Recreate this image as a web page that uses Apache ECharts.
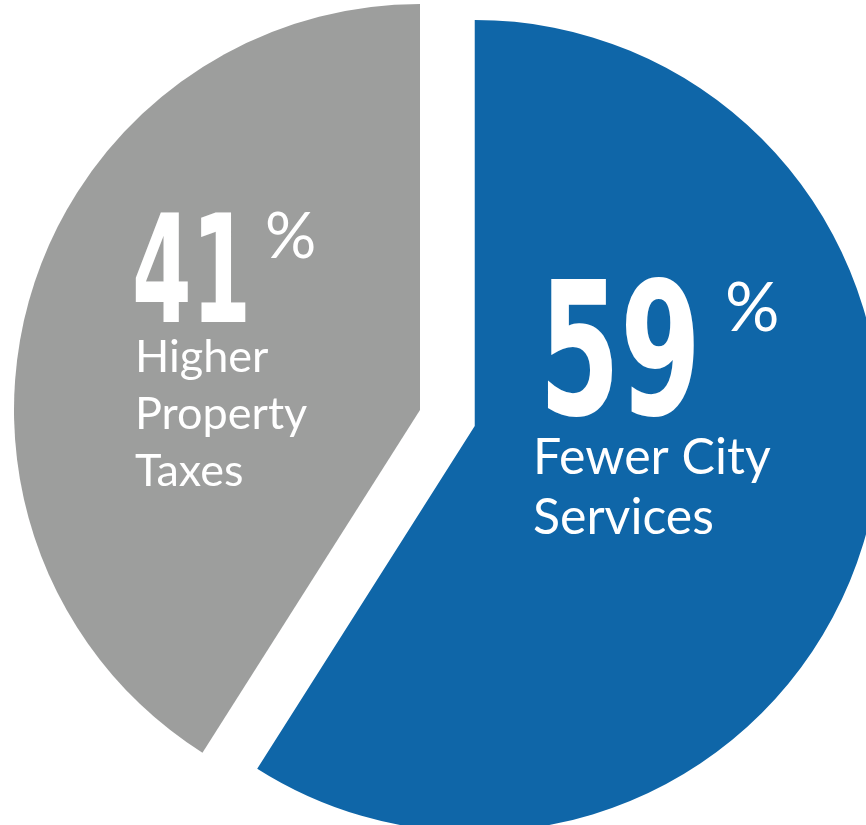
<!DOCTYPE html>
<html>
<head>
<meta charset="utf-8">
<script src="https://cdn.jsdelivr.net/npm/echarts@6/dist/echarts.min.js"></script>
<style>
html,body{margin:0;padding:0;background:#ffffff;}
#chart{width:866px;height:825px;}
</style>
</head>
<body>
<div id="chart"></div>
<script>
// ---- data ----
const categories = ['Fewer City Services', 'Higher Property Taxes'];
const values = [59, 41];
const labelLines = [['Fewer City', 'Services'], ['Higher', 'Property', 'Taxes']];

// ---- style ----
const sliceColors = ['#0F66A8', '#9D9E9D'];
const NUM_FONT = "'DejaVu Sans Condensed', 'DejaVu Sans', sans-serif";
const TXT_FONT = "Lato, 'Open Sans', sans-serif";
// label layout (per slice): number position/size, percent sign, text lines
const labelStyle = [
  { numX: 539, numMid: 366, numSize: 185, numScale: 0.70, pctX: 725, pctMid: 309, pctSize: 68, txtX: 533, txtTop: 427.5, txtSize: 50, txtLH: 60 },
  { numX: 132, numMid: 283.5, numSize: 150, numScale: 0.635, pctX: 265, pctMid: 237.5, pctSize: 64, txtX: 135, txtTop: 328.5, txtSize: 45, txtLH: 57 }
];

const chart = echarts.init(document.getElementById('chart'), null, { renderer: 'canvas' });

const pieData = categories.map((name, i) => ({
  name: name,
  value: values[i],
  selected: i === 0,
  itemStyle: { color: sliceColors[i] }
}));

const graphics = [];
categories.forEach((name, i) => {
  const s = labelStyle[i];
  graphics.push({
    type: 'text', silent: true, z: 10,
    x: s.numX, y: s.numMid, scaleX: s.numScale,
    style: {
      text: String(values[i]), x: 0, y: 0,
      fontFamily: NUM_FONT, fontWeight: 'bold', fontSize: s.numSize,
      fill: '#ffffff', align: 'left', verticalAlign: 'middle'
    }
  });
  graphics.push({
    type: 'text', silent: true, z: 10,
    x: s.pctX, y: s.pctMid,
    style: {
      text: '%', x: 0, y: 0,
      fontFamily: TXT_FONT, fontSize: s.pctSize,
      fill: '#ffffff', align: 'left', verticalAlign: 'middle'
    }
  });
  graphics.push({
    type: 'text', silent: true, z: 10,
    x: s.txtX, y: s.txtTop,
    style: {
      text: labelLines[i].join('\n'), x: 0, y: 0,
      fontFamily: TXT_FONT, fontSize: s.txtSize, lineHeight: s.txtLH,
      fill: '#ffffff', align: 'left', verticalAlign: 'top'
    }
  });
});

chart.setOption({
  animation: false,
  backgroundColor: '#ffffff',
  series: [{
    type: 'pie',
    center: [420, 410],
    radius: [0, 406],
    startAngle: 90,
    clockwise: true,
    selectedMode: 'single',
    selectedOffset: 57,
    silent: true,
    emphasis: { disabled: true },
    label: { show: false },
    labelLine: { show: false },
    data: pieData
  }],
  graphic: graphics
});
</script>
</body>
</html>
